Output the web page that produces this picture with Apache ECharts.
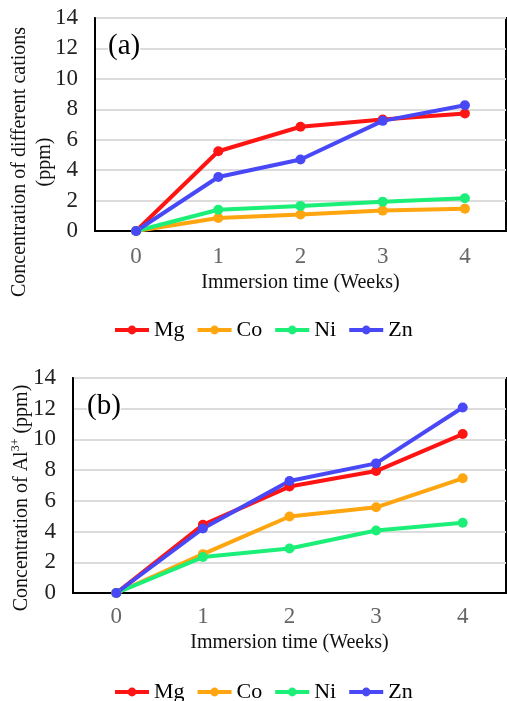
<!DOCTYPE html>
<html>
<head>
<meta charset="utf-8">
<script src="https://cdn.jsdelivr.net/npm/echarts@6/dist/echarts.min.js"></script>
<style>
    html, body { margin: 0; padding: 0; background: #fff; }
    #chart { width: 507px; height: 701px; }
</style>
</head>
<body>
<div id="chart"></div>
<script>
// weeks of immersion
var weeks = ['0', '1', '2', '3', '4'];
var names = ['Mg', 'Co', 'Ni', 'Zn'];
var colors = ['#ff1414', '#ffa50f', '#1cef78', '#4848f6'];

// (a) concentration of different cations (ppm)
var mgA = [0, 5.24, 6.85, 7.33, 7.72];
var coA = [0, 0.86, 1.08, 1.34, 1.47];
var niA = [0, 1.40, 1.65, 1.93, 2.15];
var znA = [0, 3.55, 4.70, 7.24, 8.27];

// (b) concentration of Al3+ (ppm)
var mgB = [0, 4.44, 6.93, 7.94, 10.35];
var coB = [0, 2.53, 4.98, 5.58, 7.47];
var niB = [0, 2.34, 2.90, 4.07, 4.57];
var znB = [0, 4.20, 7.29, 8.44, 12.08];

var font = 'Liberation Serif';

function makeX(idx, margin, gap) {
    return {
        type: 'category',
        gridIndex: idx,
        data: weeks,
        boundaryGap: true,
        name: 'Immersion time (Weeks)',
        nameLocation: 'middle',
        nameGap: gap,
        nameTextStyle: { fontFamily: font, fontSize: 20, color: '#111' },
        axisLine: { lineStyle: { color: '#000', width: 2 } },
        axisTick: { show: false },
        axisLabel: { fontFamily: font, fontSize: 23, color: '#666', margin: margin },
        splitLine: { show: false }
    };
}

function makeY(idx) {
    return {
        type: 'value',
        gridIndex: idx,
        min: 0,
        max: 14,
        interval: 2,
        axisLine: { show: true, lineStyle: { color: '#000', width: 2 } },
        axisTick: { show: false },
        axisLabel: { fontFamily: font, fontSize: 23, color: '#222', margin: 17 },
        splitLine: { lineStyle: { color: '#dcdcdc', width: 2 } }
    };
}

function makeSeries(idx, arrs) {
    return arrs.map(function (d, i) {
        return {
            name: names[i],
            type: 'line',
            xAxisIndex: idx,
            yAxisIndex: idx,
            data: d,
            color: colors[i],
            symbol: 'circle',
            symbolSize: 10,
            lineStyle: { width: 4 }
        };
    });
}

function makeLegend(top) {
    return {
        data: names,
        left: 113,
        top: top,
        padding: 0,
        itemWidth: 34,
        itemHeight: 11,
        itemGap: 11,
        lineStyle: { width: 4 },
        textStyle: { fontFamily: font, fontSize: 22, color: '#000' }
    };
}

var chart = echarts.init(document.getElementById('chart'));

var option = {
    animation: false,
    grid: [
        { left: 95, top: 18, width: 411, height: 213, show: true, borderColor: '#000', borderWidth: 2 },
        { left: 73, top: 378, width: 433, height: 215, show: true, borderColor: '#000', borderWidth: 2 }
    ],
    xAxis: [makeX(0, 14, 42), makeX(1, 12, 40)],
    yAxis: [makeY(0), makeY(1)],
    legend: [makeLegend(319), makeLegend(681)],
    series: makeSeries(0, [mgA, coA, niA, znA]).concat(makeSeries(1, [mgB, coB, niB, znB])),
    graphic: [
        // panel labels
        { type: 'text', left: 108, top: 32, z: 10, style: { text: '(a)', fontFamily: font, fontSize: 29, fill: '#000', backgroundColor: '#fff' } },
        { type: 'text', left: 87, top: 392, z: 10, style: { text: '(b)', fontFamily: font, fontSize: 29, fill: '#000', backgroundColor: '#fff' } },
        // y axis titles
        {
            type: 'text', x: 32, y: 162, rotation: Math.PI / 2,
            style: {
                text: 'Concentration of different cations\n(ppm)',
                fontFamily: font, fontSize: 20, lineHeight: 25, fill: '#111',
                align: 'center', verticalAlign: 'middle'
            }
        },
        {
            type: 'text', x: 22, y: 498, rotation: Math.PI / 2,
            style: {
                text: '{n|Concentration of Al}{s|3+}{n| (ppm)}',
                fill: '#111', align: 'center', verticalAlign: 'middle',
                rich: {
                    n: { fontFamily: font, fontSize: 20, fill: '#111', lineHeight: 24 },
                    s: { fontFamily: font, fontSize: 12, fill: '#111', lineHeight: 24, verticalAlign: 'top', padding: [0, 0, 8, 0] }
                }
            }
        }
    ]
};

chart.setOption(option);
</script>
</body>
</html>
